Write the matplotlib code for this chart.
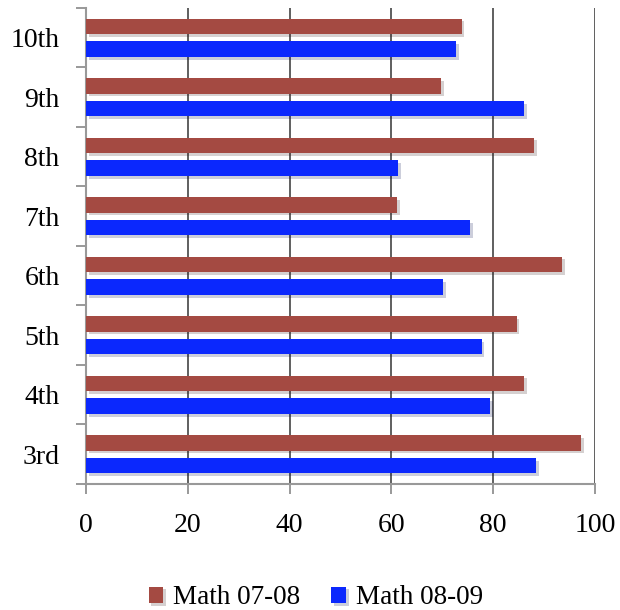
import numpy as np
import matplotlib
matplotlib.use('Agg')
from matplotlib import pyplot as plt
import matplotlib.patheffects as pe

grades = ['3rd', '4th', '5th', '6th', '7th', '8th', '9th', '10th']
math_0708 = [97.2, 86.0, 84.6, 93.5, 61.1, 88.0, 69.7, 73.8]
math_0809 = [88.4, 79.4, 77.7, 70.2, 75.5, 61.3, 86.1, 72.7]

red = '#A44A42'
blue = '#0B28FD'

plt.rcParams['font.family'] = ['Liberation Serif', 'DejaVu Serif']

fig = plt.figure(figsize=(6.2, 6.1), dpi=100)
ax = fig.add_axes([0.1387, 0.2066, 0.821, 0.7803])

y = np.arange(len(grades))
h = 0.26
shadow = [pe.SimplePatchShadow(offset=(2, -2), alpha=0.2), pe.Normal()]
b1 = ax.barh(y + 0.19, math_0708, height=h, color=red, label='Math 07-08', zorder=3)
b2 = ax.barh(y - 0.19, math_0809, height=h, color=blue, label='Math 08-09', zorder=3)
for b in list(b1) + list(b2):
    b.set_path_effects(shadow)

ax.set_xlim(0, 100)
ax.set_ylim(-0.5, len(grades) - 0.5)
ax.set_xticks(np.arange(0, 101, 20))
ax.set_yticks(y)
ax.set_yticklabels(grades)
ax.set_yticks(np.arange(-0.5, len(grades), 1), minor=True)
ax.tick_params(axis='y', which='major', length=0, labelsize=20, pad=19)
ax.tick_params(axis='y', which='minor', length=7, color='#888888', width=1.2)
ax.tick_params(axis='x', length=7, color='#888888', width=1.2, labelsize=20, pad=14)
ax.xaxis.grid(True, color='#444444', linewidth=1.2, zorder=0)

for s in ['top', 'right']:
    ax.spines[s].set_visible(False)
for s in ['left', 'bottom']:
    ax.spines[s].set_color('#999999')
    ax.spines[s].set_linewidth(1.5)

leg = fig.legend(handles=[b1, b2], loc='center', bbox_to_anchor=(0.509, 0.02),
                 ncol=2, frameon=False, fontsize=19.5, handlelength=0.55,
                 handleheight=0.55, handletextpad=0.35, columnspacing=1.15)

fig.savefig('out.png', dpi=100)
